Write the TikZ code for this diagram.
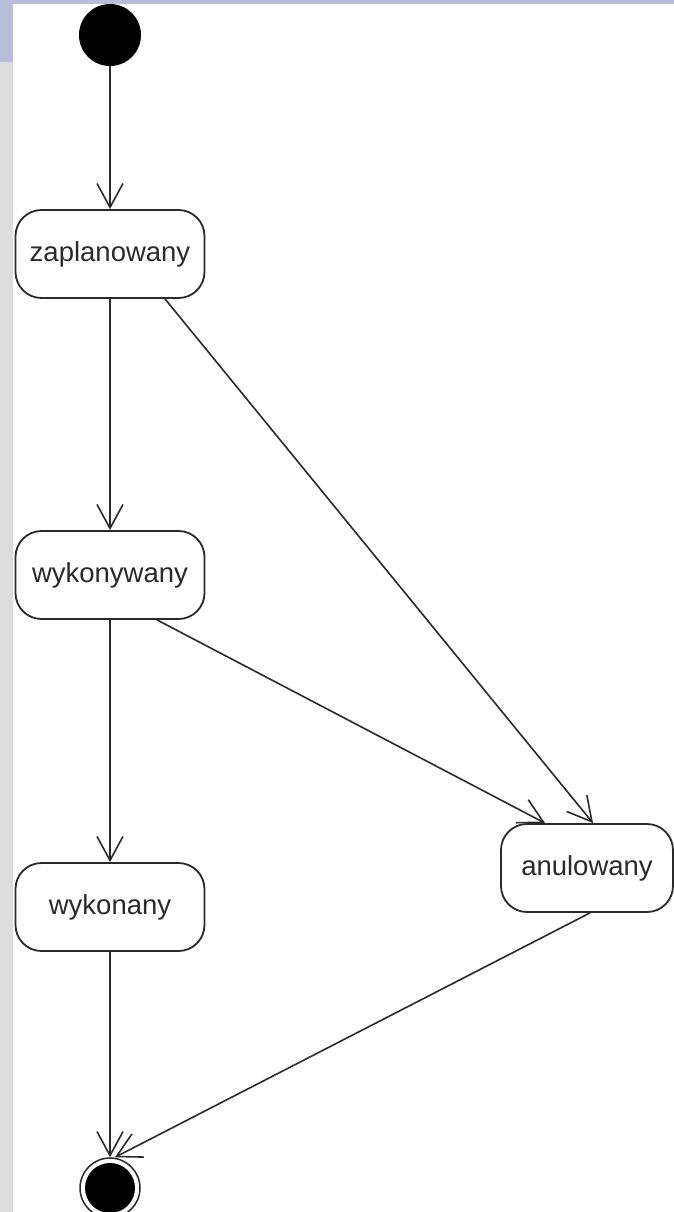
\documentclass[tikz,border=0pt]{standalone}
\usepackage{fontspec}
\setmainfont{Liberation Sans}
\usetikzlibrary{arrows.meta}
\definecolor{lav}{HTML}{B9BDDA}
\definecolor{side}{HTML}{DCDCDC}
\definecolor{ink}{HTML}{2A2A2A}
\tikzset{
  state/.style={draw=ink, line width=1.8pt, rounded corners=26pt, minimum width=189pt, minimum height=88pt, inner sep=0pt, font=\fontsize{27.5}{32}\selectfont, text=ink},
  flow/.style={draw=ink, line width=1.6pt, -{Straight Barb[length=24pt,width=26pt,line width=1.6pt]}},
}
\begin{document}
\begin{tikzpicture}[x=1pt,y=-1pt]
\useasboundingbox (0,0) rectangle (674,1212);
\fill[white] (0,0) rectangle (674,1212);
\fill[side] (0,62) rectangle (13,1212);
\fill[lav] (0,0) rectangle (13,62);
\fill[lav] (0,0) rectangle (674,4);
\node[circle, fill=black, minimum size=62pt, inner sep=0pt] (init) at (110,35) {};
\node[state] (zap) at (110,254) {zaplanowany};
\node[state] (wyk) at (110,575) {wykonywany};
\node[state] (done) at (110,907) {wykonany};
\node[state, minimum width=172pt] (anul) at (587,868) {anulowany};
\node[circle, draw=ink, line width=1.5pt, minimum size=60pt, inner sep=0pt] (fin) at (110,1188) {};
\fill[black] (fin.center) circle (25pt);
\draw[flow] (init) -- (zap.north);
\draw[flow] (zap.south) -- (wyk.north);
\draw[flow] (wyk.south) -- (done.north);
\draw[flow] ([xshift=55pt]zap.south) -- ([xshift=6pt]anul.north);
\draw[flow] ([xshift=47pt]wyk.south) -- ([xshift=-42pt]anul.north);
\draw[flow] (done.south) -- (fin.north);
\draw[flow] ([xshift=3pt]anul.south) -- ([xshift=5pt]fin.north);
\end{tikzpicture}
\end{document}
